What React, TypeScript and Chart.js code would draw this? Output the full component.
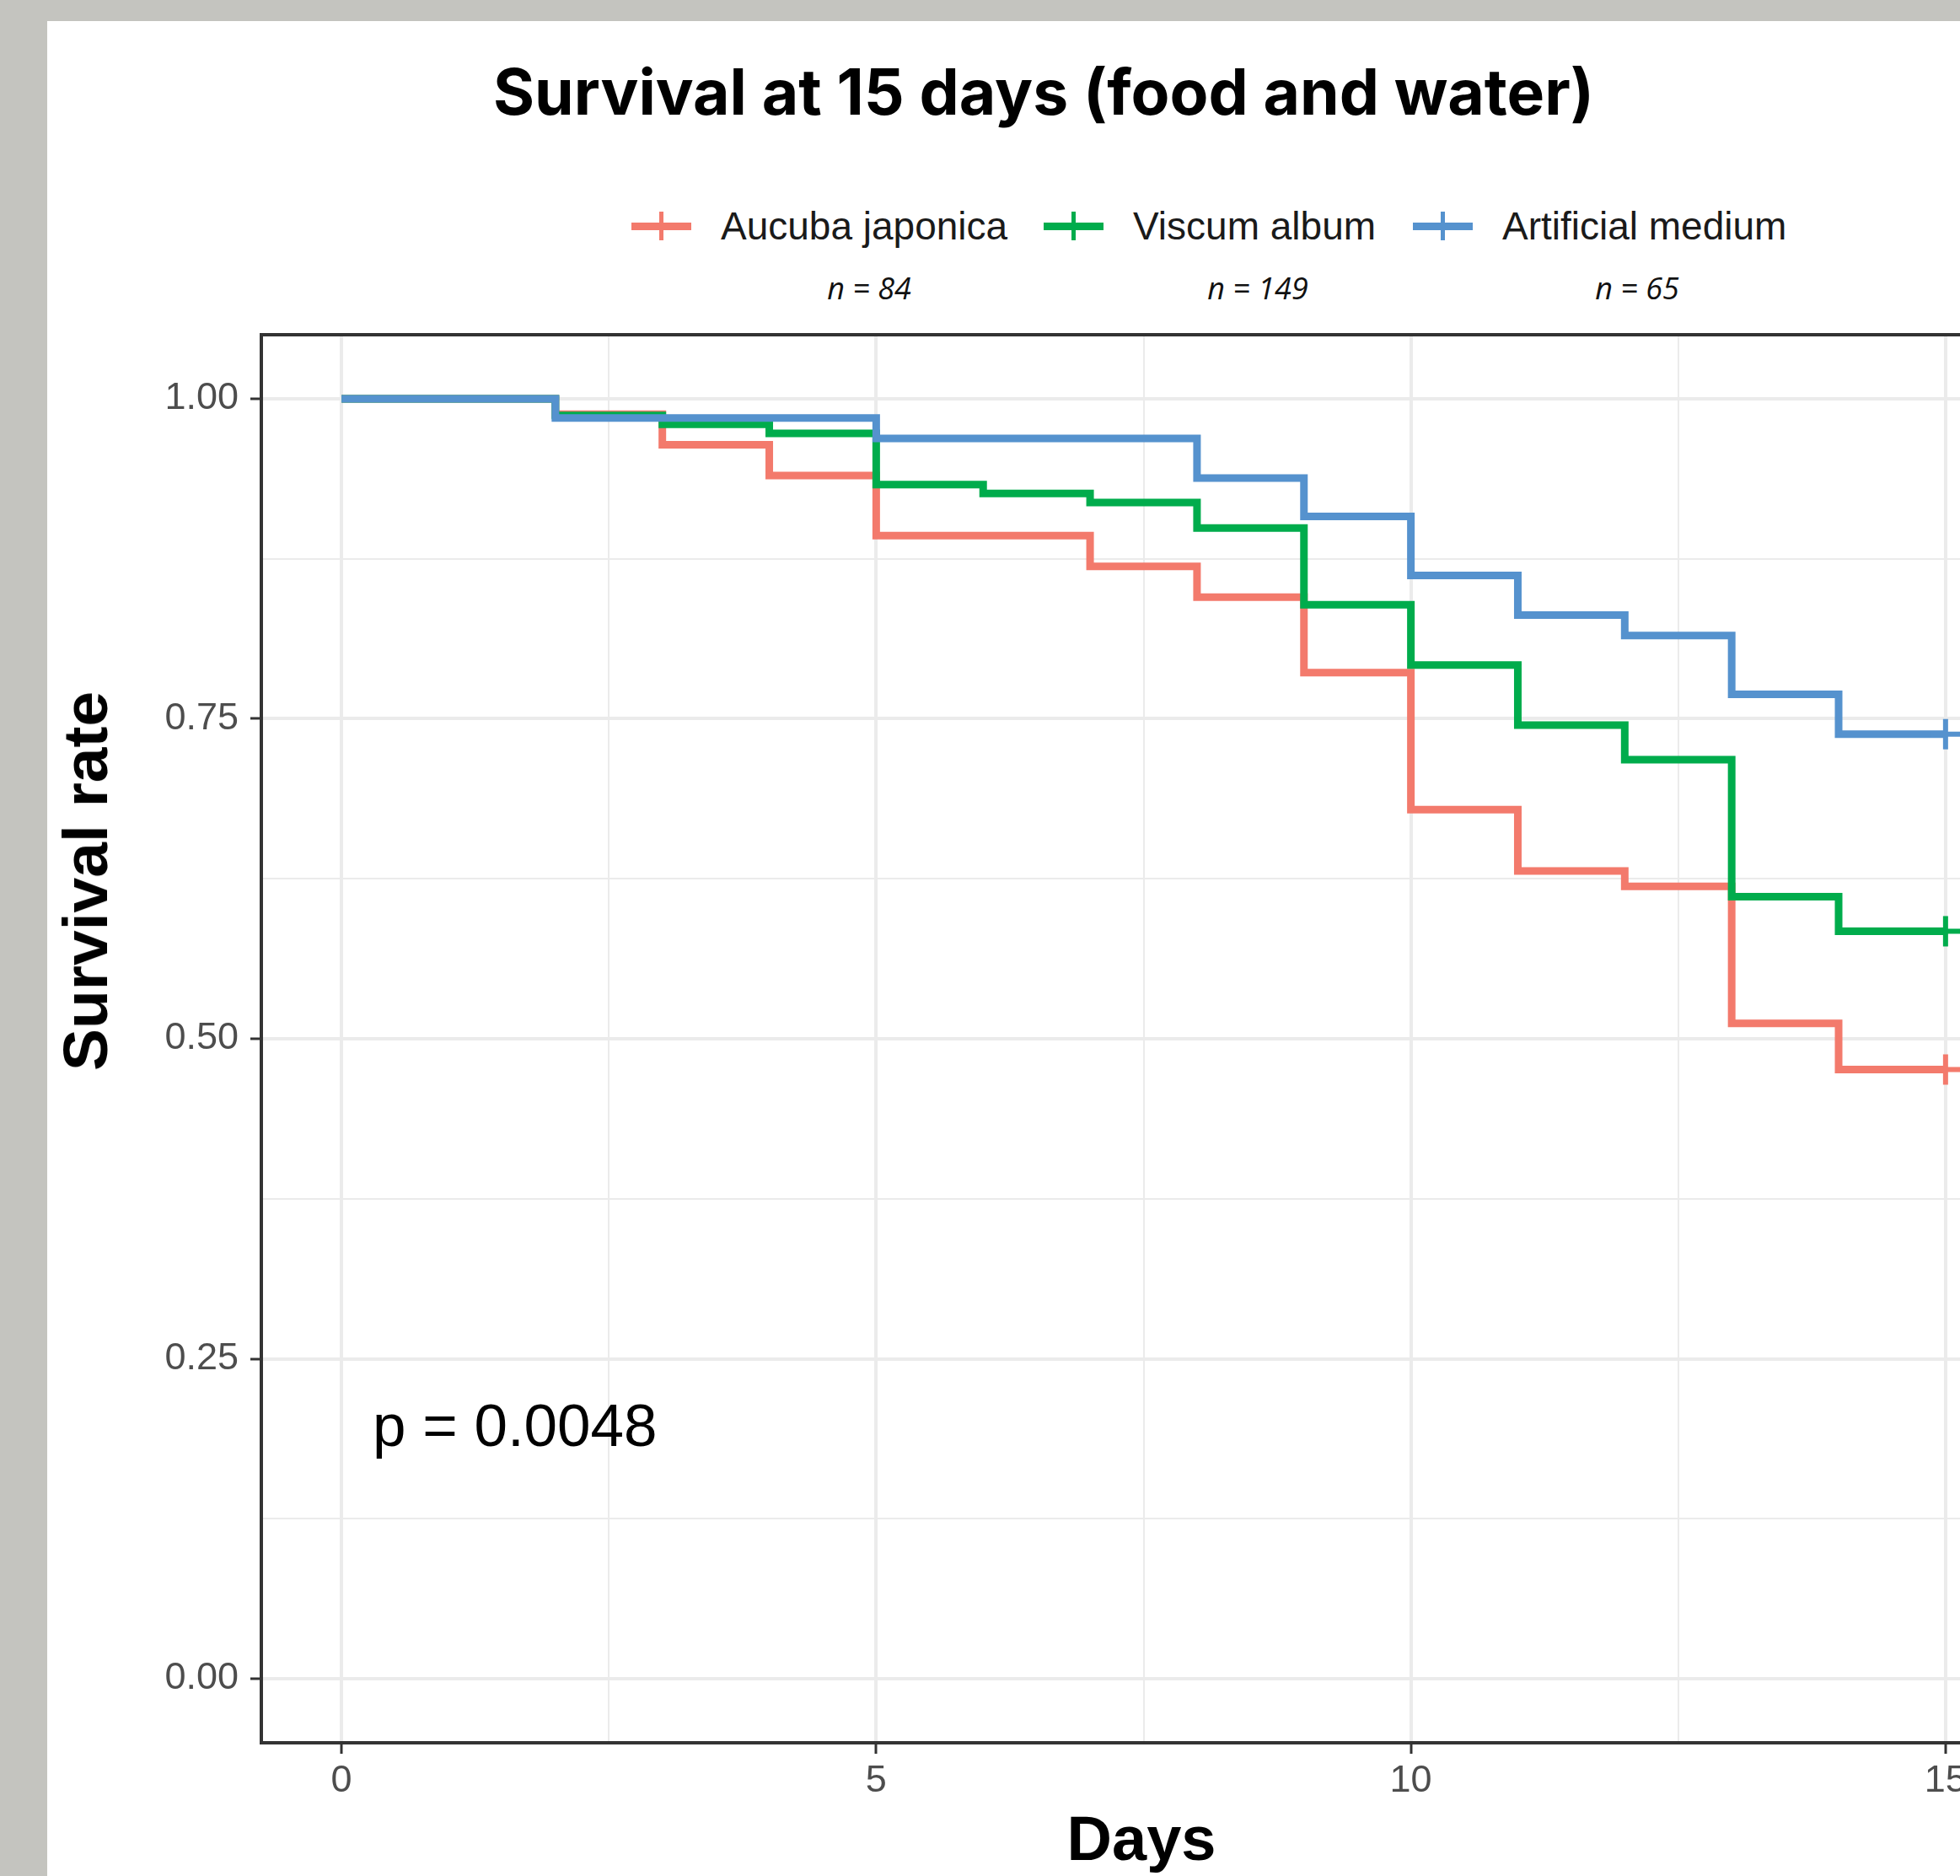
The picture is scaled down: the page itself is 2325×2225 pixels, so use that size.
import React, { useEffect, useRef } from "react";
import { Chart, registerables } from "chart.js";

Chart.register(...registerables);

// ---- Data (Kaplan-Meier steps) ----
const seriesNames = ["Aucuba japonica", "Viscum album", "Artificial medium"];
const seriesN = ["n = 84", "n = 149", "n = 65"];
const seriesColors = ["#F37A6C", "#00AC4C", "#5592CE"];

const aucubaDays = [0, 2, 3, 4, 5, 7, 8, 9, 10, 11, 12, 13, 14, 15];
const aucubaSurvival = [1.0, 0.988, 0.964, 0.94, 0.893, 0.869, 0.845, 0.786, 0.679, 0.631, 0.619, 0.512, 0.476, 0.476];

const viscumDays = [0, 2, 3, 4, 5, 6, 7, 8, 9, 10, 11, 12, 13, 14, 15];
const viscumSurvival = [1.0, 0.987, 0.98, 0.973, 0.933, 0.926, 0.919, 0.899, 0.839, 0.792, 0.745, 0.718, 0.611, 0.584, 0.584];

const artificialDays = [0, 2, 5, 8, 9, 10, 11, 12, 13, 14, 15];
const artificialSurvival = [1.0, 0.985, 0.969, 0.938, 0.908, 0.862, 0.831, 0.815, 0.769, 0.738, 0.738];

const xTicks = [0, 2.5, 5, 7.5, 10, 12.5, 15];
const yTicks = [0, 0.125, 0.25, 0.375, 0.5, 0.625, 0.75, 0.875, 1.0];

const titleText = "Survival at 15 days (food and water)";
const xTitle = "Days";
const yTitle = "Survival rate";
const pValueText = "p = 0.0048";

const CANVAS_W = 2500;
const CANVAS_H = 2225;

const panelBorder = {
  id: "panelBorder",
  afterDatasetsDraw(chart: any) {
    const { ctx, chartArea } = chart;
    ctx.save();
    ctx.strokeStyle = "#333333";
    ctx.lineWidth = 4;
    ctx.strokeRect(chartArea.left, chartArea.top, chartArea.right - chartArea.left, chartArea.bottom - chartArea.top);
    ctx.restore();
  },
};

function toPoints(xs: number[], ys: number[]) {
  return xs.map((x, i) => ({ x, y: ys[i] }));
}

function SurvivalChart() {
  const ref = useRef<HTMLCanvasElement | null>(null);
  useEffect(() => {
    if (!ref.current) return;
    const lastRadius = (n: number) => (c: any) => (c.dataIndex === n - 1 ? 18 : 0);
    const mk = (label: string, xs: number[], ys: number[], color: string, order: number) => ({
      label,
      data: toPoints(xs, ys),
      borderColor: color,
      backgroundColor: color,
      borderWidth: 9,
      stepped: true as const,
      pointStyle: "cross" as const,
      pointRadius: lastRadius(xs.length),
      pointBorderWidth: 6,
      pointBorderColor: color,
      pointHoverRadius: 0,
      fill: false,
      order,
    });
    const chart = new Chart(ref.current, {
      type: "line",
      data: {
        datasets: [
          mk(seriesNames[0], aucubaDays, aucubaSurvival, seriesColors[0], 2),
          mk(seriesNames[1], viscumDays, viscumSurvival, seriesColors[1], 1),
          mk(seriesNames[2], artificialDays, artificialSurvival, seriesColors[2], 0),
        ],
      },
      options: {
        animation: false,
        responsive: false,
        maintainAspectRatio: false,
        devicePixelRatio: 1,
        layout: { padding: { top: 397, right: CANVAS_W - 2403, left: 0, bottom: 0 } },
        plugins: { legend: { display: false }, tooltip: { enabled: false } },
        scales: {
          x: {
            type: "linear",
            min: -0.75,
            max: 15.75,
            afterBuildTicks: (s: any) => {
              s.ticks = xTicks.map((v) => ({ value: v }));
            },
            afterFit: (s: any) => {
              s.height = 158;
            },
            border: { display: false },
            grid: {
              color: "#EBEBEB",
              lineWidth: (c: any) => (c.tick && c.tick.value % 5 === 0 ? 4 : 2),
              tickLength: 13,
              tickWidth: 3,
              tickColor: (c: any) => (c.tick && c.tick.value % 5 === 0 ? "#333333" : "rgba(0,0,0,0)"),
            },
            ticks: {
              autoSkip: false,
              maxRotation: 0,
              padding: 6,
              color: "#4D4D4D",
              font: { family: "Liberation Sans", size: 45 },
              callback: (v: any) => (Number(v) % 5 === 0 ? String(v) : ""),
            },
          },
          y: {
            type: "linear",
            min: -0.05,
            max: 1.05,
            afterBuildTicks: (s: any) => {
              s.ticks = yTicks.map((v) => ({ value: v }));
            },
            afterFit: (s: any) => {
              s.width = 310;
            },
            border: { display: false },
            grid: {
              color: "#EBEBEB",
              lineWidth: (c: any) => (c.tick && (c.tick.value * 4) % 1 === 0 ? 4 : 2),
              tickLength: 13,
              tickWidth: 3,
              tickColor: (c: any) => (c.tick && (c.tick.value * 4) % 1 === 0 ? "#333333" : "rgba(0,0,0,0)"),
            },
            ticks: {
              autoSkip: false,
              padding: 14,
              color: "#4D4D4D",
              font: { family: "Liberation Sans", size: 45 },
              callback: (v: any) => ((Number(v) * 4) % 1 === 0 ? Number(v).toFixed(2) : ""),
            },
          },
        },
      },
      plugins: [panelBorder],
    });
    return () => chart.destroy();
  }, []);
  return (
    <canvas
      ref={ref}
      width={CANVAS_W}
      height={CANVAS_H}
      style={{ position: "absolute", left: 0, top: 0, width: CANVAS_W, height: CANVAS_H }}
    />
  );
}

function LegendItem({ x, color, label }: { x: number; color: string; label: string }) {
  return (
    <div style={{ position: "absolute", left: x, top: 268, transform: "translateY(-50%)", display: "flex", alignItems: "center" }}>
      <div style={{ position: "relative", width: 71, height: 34, marginRight: 35 }}>
        <div style={{ position: "absolute", left: 0, top: 13, width: 71, height: 9, background: color }} />
        <div style={{ position: "absolute", left: 33, top: 0, width: 5, height: 34, background: color }} />
      </div>
      <span style={{ fontFamily: "Liberation Sans", fontSize: 46, color: "#1A1A1A", whiteSpace: "nowrap" }}>{label}</span>
    </div>
  );
}

export default function App() {
  const nCenters = [1031, 1492, 1942];
  const legendX = [749, 1238, 1676];
  return (
    <div style={{ position: "fixed", left: 0, top: 0, width: 2325, height: 2225, overflow: "hidden", background: "#C4C4BF" }}>
      <div style={{ position: "absolute", left: 56, top: 25, width: 2400, height: 2300, background: "#FFFFFF" }} />
      <div
        style={{
          position: "absolute",
          left: 1238,
          top: 108,
          transform: "translate(-50%, -50%)",
          fontFamily: "Inter",
          fontWeight: 700,
          fontSize: 75,
          color: "#000",
          whiteSpace: "nowrap",
        }}
      >
        {titleText}
      </div>
      {seriesNames.map((s, i) => (
        <LegendItem key={s} x={legendX[i]} color={seriesColors[i]} label={s} />
      ))}
      {seriesN.map((t, i) => (
        <div
          key={t}
          style={{
            position: "absolute",
            left: nCenters[i],
            top: 341,
            transform: "translate(-50%, -50%)",
            fontFamily: "Open Sans",
            fontStyle: "italic",
            fontSize: 36,
            color: "#111",
            whiteSpace: "nowrap",
          }}
        >
          {t}
        </div>
      ))}
      <SurvivalChart />
      <div
        style={{
          position: "absolute",
          left: 1354,
          top: 2180,
          transform: "translate(-50%, -50%)",
          fontFamily: "Liberation Sans",
          fontWeight: 700,
          fontSize: 74,
          color: "#000",
        }}
      >
        {xTitle}
      </div>
      <div
        style={{
          position: "absolute",
          left: 101,
          top: 1045,
          transform: "translate(-50%, -50%) rotate(-90deg)",
          fontFamily: "Liberation Sans",
          fontWeight: 700,
          fontSize: 75,
          color: "#000",
          whiteSpace: "nowrap",
        }}
      >
        {yTitle}
      </div>
      <div
        style={{
          position: "absolute",
          left: 442,
          top: 1690,
          transform: "translateY(-50%)",
          fontFamily: "Liberation Sans",
          fontSize: 71,
          color: "#000",
          whiteSpace: "nowrap",
        }}
      >
        {pValueText}
      </div>
    </div>
  );
}
